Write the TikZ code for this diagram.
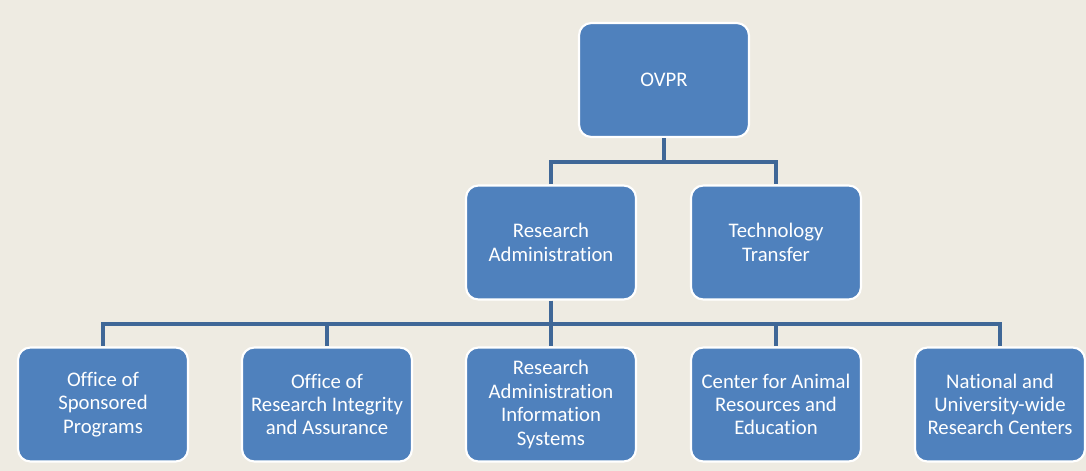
\documentclass[tikz,border=0pt]{standalone}
\usepackage{fontspec}
\setmainfont{Carlito}[Ligatures=NoCommon]
\definecolor{paper}{HTML}{EEEBE2}
\definecolor{boxblue}{HTML}{4F81BD}
\definecolor{wire}{HTML}{3F6797}
\tikzset{
  unit/.style={draw=white, line width=1.2pt, fill=boxblue, rounded corners=7pt,
    minimum width=3.4cm, minimum height=2.28cm, text=white, align=center,
    font=\fontsize{11.8}{13.3}\selectfont},
  wiring/.style={draw=wire, line width=2.2pt}
}
\begin{document}
\begin{tikzpicture}
    \def\x{0.02}
    \def\y{-0.02}
    \fill[paper] (0,0) rectangle (1086*\x, 471*\y);
    \useasboundingbox (0,0) rectangle (1086*\x, 471*\y);
    % top of the tree
    \node[unit] (ovpr) at (664*\x, 80*\y) {OVPR};
    % second level
    \node[unit] (resadm) at (551*\x, 242.5*\y) {Research\\Administration};
    \node[unit] (techtr) at (776*\x, 242.5*\y) {Technology\\Transfer};
    % units under research administration
    \node[unit] (osp)  at (103*\x, 404.5*\y) {Office of\\Sponsored\\Programs};
    \node[unit] (oria) at (327*\x, 404.5*\y) {Office of\\Research Integrity\\and Assurance};
    \node[unit] (rais) at (551*\x, 404.5*\y) {Research\\Administration\\Information\\Systems};
    \node[unit] (care) at (776*\x, 404.5*\y) {Center for Animal\\Resources and\\Education};
    \node[unit] (nurc) at (1000*\x, 404.5*\y) {National and\\University-wide\\Research Centers};
    % bus lines
    \coordinate (topbus) at (664*\x, 162*\y);
    \coordinate (lowbus) at (551*\x, 324*\y);
    \begin{scope}[on background layer/.try]
      \draw[wiring] (ovpr.south) -- (topbus);
      \draw[wiring] (topbus) -| (resadm.north);
      \draw[wiring] (topbus) -| (techtr.north);
      \draw[wiring] (resadm.south) -- (lowbus);
      \foreach \n in {osp,oria,rais,care,nurc}
        \draw[wiring] (lowbus) -| (\n.north);
    \end{scope}
  \end{tikzpicture}
\end{document}
